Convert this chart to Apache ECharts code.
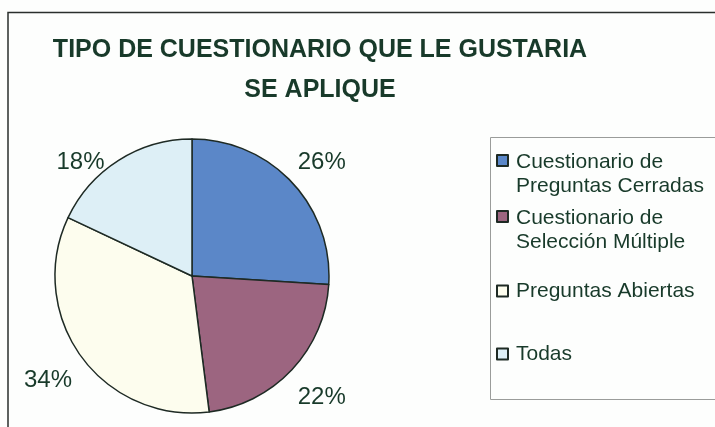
<!DOCTYPE html>
<html>
<head>
<meta charset="utf-8">
<script src="https://cdn.jsdelivr.net/npm/echarts@6/dist/echarts.min.js"></script>
<style>
  html, body { margin: 0; padding: 0; background: #fdfefd; }
  #app { width: 715px; height: 427px; }
</style>
</head>
<body>
<div id="app"></div>
<script>
const categories = [
  "Cuestionario de\nPreguntas Cerradas",
  "Cuestionario de\nSelección Múltiple",
  "Preguntas Abiertas",
  "Todas",
];
const values = [26, 22, 34, 18];
const colors = ["#5b87c8", "#9c6580", "#fdfdee", "#ddeff6"];

const textColor = "#183a2a";
const myChart = echarts.init(document.getElementById("app"));

// icono cuadrado arriba para las entradas de dos lineas
const iconTwoLines = "path://M0,0M0,5h11v11h-11zM11,48";
const legendTops = [149, 205, 279, 342];

const legends = categories.map(function (name, i) {
  const twoLines = name.indexOf("\n") >= 0;
  return {
    data: [name],
    orient: "vertical",
    left: 496,
    top: legendTops[i],
    padding: 0,
    selectedMode: false,
    icon: twoLines ? iconTwoLines : "rect",
    itemWidth: 11,
    itemHeight: twoLines ? 48 : 11,
    itemGap: 0,
    textStyle: {
      color: textColor,
      fontFamily: "Liberation Sans, Arial, sans-serif",
      fontSize: 21,
      lineHeight: 24,
      padding: [0, 0, 0, 3],
    },
  };
});

const pieR = 137;
const lineLen = 10; // largo de la guia (oculta)
const labelGap = 41; // distancia del centro de la etiqueta al borde
const plotTop = 162; // las etiquetas no suben mas alla del area

const option = {
  backgroundColor: "#fdfefd",
  animation: false,
  title: {
    text: "TIPO DE CUESTIONARIO QUE LE GUSTARIA\nSE APLIQUE",
    left: 315,
    top: 25,
    textAlign: "center",
    textStyle: {
      color: textColor,
      fontFamily: "Liberation Sans, Arial, sans-serif",
      fontWeight: "bold",
      fontSize: 25,
      lineHeight: 40,
    },
  },
  legend: legends,
  graphic: [
    {
      type: "polyline",
      shape: { points: [[8, 430], [8, 12.5], [720, 12.5]] },
      style: { stroke: "#2a2f2c", lineWidth: 1.5, fill: null },
    },
    {
      type: "rect",
      shape: { x: 490.5, y: 137.5, width: 260, height: 262 },
      style: { stroke: "#9a9c9a", lineWidth: 1, fill: null },
      z: -1,
    },
  ],
  series: [
    {
      type: "pie",
      center: [192, 276],
      radius: pieR,
      startAngle: 90,
      clockwise: true,
      avoidLabelOverlap: false,
      silent: true,
      itemStyle: {
        borderColor: "#1e2a24",
        borderWidth: 1.5,
      },
      label: {
        show: true,
        position: "outside",
        formatter: "{d}%",
        color: textColor,
        fontFamily: "Liberation Sans, Arial, sans-serif",
        fontSize: 24,
      },
      labelLine: { show: false, length: lineLen, length2: 0 },
      labelLayout: function (params) {
        const pts = params.labelLinePoints;
        if (!pts) return {};
        const lr = params.labelRect;
        const ux = (pts[1][0] - pts[0][0]) / lineLen;
        const uy = (pts[1][1] - pts[0][1]) / lineLen;
        let x = pts[0][0] + ux * labelGap;
        let y = pts[0][1] + uy * labelGap;
        if (y < plotTop) {
          // se baja; si queda encima del circulo se corre hacia afuera
          y = plotTop;
          const cx = pts[0][0] - ux * pieR;
          const cy = pts[0][1] - uy * pieR;
          const ey = y + lr.height / 2 - cy;
          const ex = Math.sqrt(Math.max(pieR * pieR - ey * ey, 0));
          x = ux < 0
            ? Math.min(x, cx - ex - lr.width / 2 + 4)
            : Math.max(x, cx + ex + lr.width / 2 - 4);
        }
        return { x: x, y: y, align: "center", verticalAlign: "middle" };
      },
      data: categories.map(function (name, i) {
        return { name: name, value: values[i], itemStyle: { color: colors[i] } };
      }),
    },
  ],
};

myChart.setOption(option);
</script>
</body>
</html>
